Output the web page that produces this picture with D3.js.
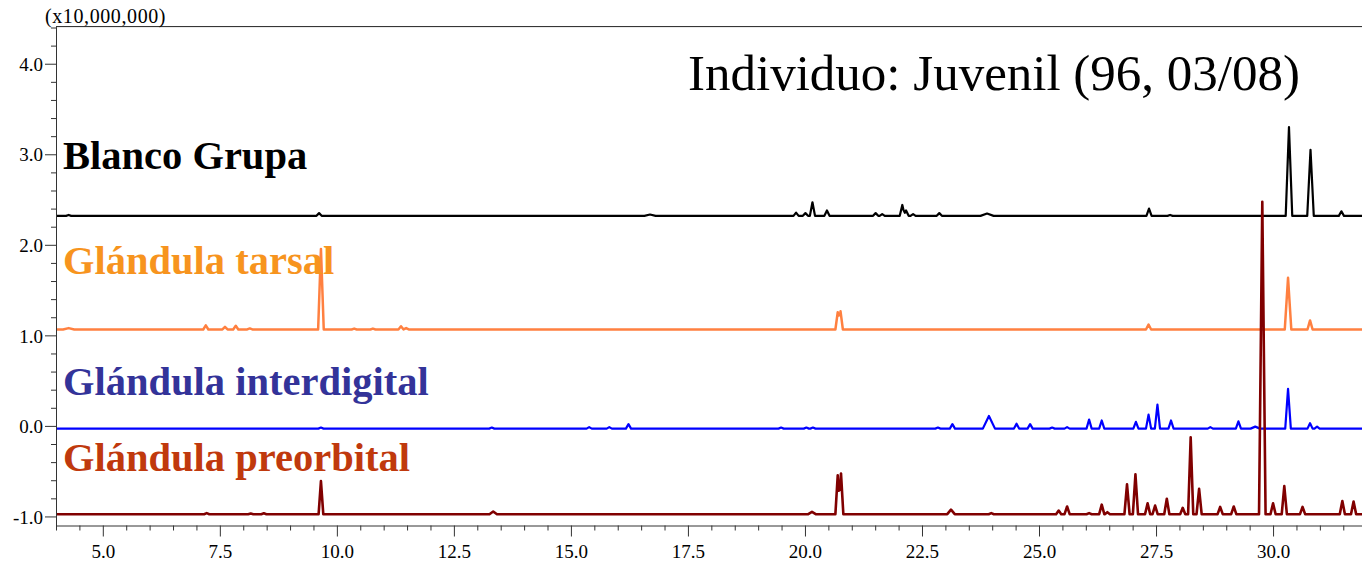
<!DOCTYPE html>
<html>
<head>
<meta charset="utf-8">
<script src="https://cdn.jsdelivr.net/npm/d3@7/dist/d3.min.js"></script>
<style>
  html, body { margin: 0; padding: 0; background: #fff; }
  svg { display: block; }
  text { font-family: "Liberation Serif", "DejaVu Serif", serif; }
</style>
</head>
<body>
<svg id="chart" width="1362" height="567"></svg>
<script>
// Retention time axis (minutes) and intensity axis (x10,000,000 counts)
const timeRange = [4.0, 31.9];
const intensityRange = [-1.1, 4.41];
const xMajorTicks = [5.0, 7.5, 10.0, 12.5, 15.0, 17.5, 20.0, 22.5, 25.0, 27.5, 30.0];
const xTickLabels = ["5.0", "7.5", "10.0", "12.5", "15.0", "17.5", "20.0", "22.5", "25.0", "27.5", "30.0"];
const yMajorTicks = [-1, 0, 1, 2, 3, 4];
const yTickLabels = ["-1.0", "0.0", "1.0", "2.0", "3.0", "4.0"];

// Sample names and the offset baseline of each trace
const sampleNames = ["Blanco Grupa", "Glándula tarsal", "Glándula interdigital", "Glándula preorbital"];
const baselines = [2.32, 1.065, -0.03, -0.975];

// Peaks per trace: [retention time, height above baseline, optional half width]
const peaksBlanco = [
  [4.27, 0.01], [9.62, 0.03], [16.69, 0.015, 0.12], [19.81, 0.035], [20.01, 0.03],
  [20.16, 0.15], [20.47, 0.06], [21.51, 0.03], [21.65, 0.02], [22.08, 0.12],
  [22.16, 0.06], [22.31, 0.02], [22.87, 0.03], [23.89, 0.025, 0.14],
  [27.35, 0.08], [27.8, 0.01], [30.34, 0.98, 0.07], [30.80, 0.73, 0.07], [31.46, 0.05]
];
const peaksTarsal = [
  [4.27, 0.015, 0.12], [7.20, 0.045], [7.61, 0.028], [7.84, 0.04], [8.14, 0.012],
  [9.66, 0.89, 0.06], [10.37, 0.01], [10.77, 0.01], [11.37, 0.035], [11.48, 0.015],
  [20.70, 0.19, 0.05], [20.76, 0.20, 0.05], [27.34, 0.055],
  [30.32, 0.57, 0.07], [30.79, 0.10]
];
const peaksInterdigital = [
  [9.66, 0.012], [13.31, 0.012], [15.39, 0.017], [15.82, 0.017], [16.23, 0.05],
  [19.49, 0.012], [20.03, 0.012], [20.17, 0.012], [22.84, 0.012], [23.15, 0.05],
  [23.93, 0.14, 0.13], [24.52, 0.055], [24.81, 0.05], [25.28, 0.012], [25.60, 0.017],
  [26.07, 0.10], [26.34, 0.09], [27.07, 0.075], [27.34, 0.155], [27.53, 0.265],
  [27.82, 0.09], [28.66, 0.017], [29.26, 0.08], [29.62, 0.022, 0.1],
  [30.32, 0.44, 0.06], [30.79, 0.06], [30.94, 0.022]
];
const peaksPreorbital = [
  [7.22, 0.012], [8.16, 0.008], [8.44, 0.01], [9.66, 0.365, 0.05], [13.34, 0.03, 0.08],
  [20.15, 0.025, 0.08], [20.70, 0.43, 0.05], [20.77, 0.45, 0.05], [23.12, 0.05, 0.08],
  [23.98, 0.012], [25.42, 0.04], [25.60, 0.085], [26.07, 0.012], [26.34, 0.105],
  [26.46, 0.022], [26.88, 0.33], [27.06, 0.44], [27.32, 0.12], [27.48, 0.095],
  [27.73, 0.17], [28.07, 0.07], [28.24, 0.85, 0.055], [28.42, 0.28], [28.87, 0.08],
  [29.16, 0.085], [29.77, 3.45, 0.07], [30.00, 0.12], [30.24, 0.31], [30.63, 0.08],
  [31.48, 0.145], [31.72, 0.14]
];
const peakTables = [peaksBlanco, peaksTarsal, peaksInterdigital, peaksPreorbital];

const traceColors = ["#000000", "#ff8040", "#0000ff", "#800000"];
const traceWidths = [2.2, 2.5, 2.2, 2.6];
const labelColors = ["#000000", "#f7941e", "#333399", "#c0390d"];

const svg = d3.select("#chart");
const margin = { left: 56, top: 26.6, right: 0, bottom: 41.5 };
const W = 1362, H = 567;

const x = d3.scaleLinear().domain(timeRange).range([margin.left, W - margin.right]);
const y = d3.scaleLinear().domain(intensityRange).range([H - margin.bottom, margin.top]);

// Build a trace as the sum of triangular peaks on its baseline
function tracePoints(base, peaks) {
  const dw = 0.055;
  const knots = new Set([timeRange[0], timeRange[1]]);
  peaks.forEach(p => {
    const w = p[2] || dw;
    knots.add(p[0] - w); knots.add(p[0]); knots.add(p[0] + w);
  });
  const ts = Array.from(knots).filter(t => t >= timeRange[0] && t <= timeRange[1]).sort((a, b) => a - b);
  return ts.map(t => {
    let v = base;
    peaks.forEach(p => {
      const w = p[2] || dw;
      const d = Math.abs(t - p[0]);
      if (d < w) v += p[1] * (1 - d / w);
    });
    return [t, v];
  });
}

const line = d3.line().x(d => x(d[0])).y(d => y(d[1])).curve(d3.curveLinear);

svg.append("clipPath").attr("id", "plotclip").append("rect")
  .attr("x", margin.left).attr("y", margin.top)
  .attr("width", W - margin.left).attr("height", H - margin.bottom - margin.top);

const plot = svg.append("g").attr("clip-path", "url(#plotclip)");
sampleNames.forEach((name, i) => {
  plot.append("path")
    .datum(tracePoints(baselines[i], peakTables[i]))
    .attr("d", line)
    .attr("fill", "none")
    .attr("stroke", traceColors[i])
    .attr("stroke-width", traceWidths[i])
    .attr("stroke-linejoin", "round");
});

// Frame: top border line
svg.append("line")
  .attr("x1", margin.left).attr("x2", W)
  .attr("y1", margin.top).attr("y2", margin.top)
  .attr("stroke", "#222").attr("stroke-width", 1);

// Y axis with minor ticks every 0.2
const yMinor = d3.range(-1.0, 4.41, 0.2).map(v => +v.toFixed(1)).filter(v => !yMajorTicks.includes(v));
const yAxisMinor = svg.append("g").attr("transform", `translate(${margin.left},0)`)
  .call(d3.axisLeft(y).tickValues(yMinor).tickSize(5).tickFormat("").tickSizeOuter(0));
const yAxis = svg.append("g").attr("transform", `translate(${margin.left},0)`)
  .call(d3.axisLeft(y).tickValues(yMajorTicks).tickSize(11).tickSizeOuter(0)
    .tickFormat((d, i) => yTickLabels[i]));
yAxisMinor.select(".domain").remove();

// X axis with minor ticks every 0.5
const xMinor = d3.range(4.0, 31.6, 0.5).map(v => +v.toFixed(1)).filter(v => !xMajorTicks.includes(v));
const xAxisMinor = svg.append("g").attr("transform", `translate(0,${H - margin.bottom})`)
  .call(d3.axisBottom(x).tickValues(xMinor).tickSize(5).tickFormat("").tickSizeOuter(0));
const xAxis = svg.append("g").attr("transform", `translate(0,${H - margin.bottom})`)
  .call(d3.axisBottom(x).tickValues(xMajorTicks).tickSize(11).tickSizeOuter(0)
    .tickFormat((d, i) => xTickLabels[i]));
xAxisMinor.select(".domain").remove();

[yAxis, yAxisMinor, xAxis, xAxisMinor].forEach(g => {
  g.selectAll("line").attr("stroke", "#333");
  g.select(".domain").attr("stroke", "#333");
});
yAxis.selectAll("text").attr("font-family", "Liberation Serif").attr("font-size", 19)
  .attr("fill", "#000").attr("x", -13).attr("dy", "0.35em");
xAxis.selectAll("text").attr("font-family", "Liberation Serif").attr("font-size", 19)
  .attr("fill", "#000").attr("y", 19).attr("dy", "0.71em");

// Unit label
svg.append("text").attr("x", 45).attr("y", 23)
  .attr("font-size", 20).attr("letter-spacing", 0.6).attr("fill", "#000").text("(x10,000,000)");

// Title
svg.append("text").attr("x", 1300).attr("y", 90)
  .attr("text-anchor", "end").attr("font-size", 51).attr("fill", "#000")
  .text("Individuo: Juvenil (96, 03/08)");

// Sample labels
const labelY = [169, 274, 395, 471];
sampleNames.forEach((name, i) => {
  svg.append("text")
    .attr("x", 63).attr("y", labelY[i])
    .attr("font-size", 40.5).attr("font-weight", "bold")
    .attr("fill", labelColors[i])
    .text(name);
});
</script>
</body>
</html>
